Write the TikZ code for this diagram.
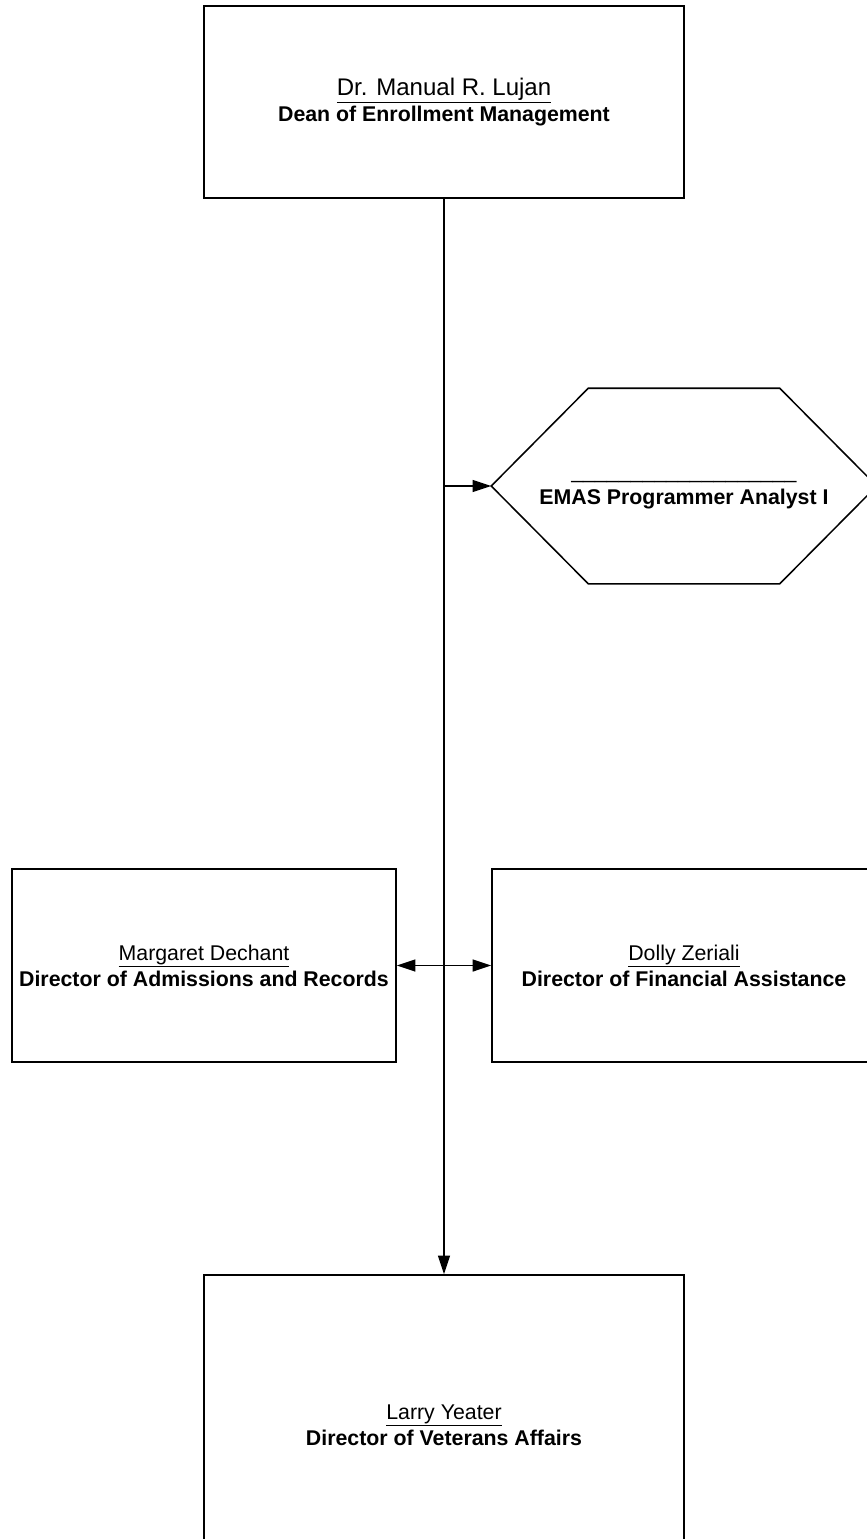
\documentclass[tikz,border=0pt]{standalone}
\usepackage{fontspec}
\setmainfont{Liberation Sans}
\usepackage{tikz}
\usetikzlibrary{arrows.meta, positioning}

\begin{document}
\begin{tikzpicture}
[line width = 1.3pt, >={Triangle[length=0.56cm, width=0.36cm]},
 post/.style = {rectangle, draw=black, fill=white, align=center, font=\fontsize{18.2}{22.2}\selectfont},
 wide/.style = {post, minimum width=14.4cm, minimum height=5.76cm},
 side/.style = {post, minimum width=11.52cm, minimum height=5.79cm},
 staff/.style = {post, draw=none, fill=none, minimum width=11.52cm, minimum height=5.82cm}]
\useasboundingbox (0,0) rectangle (26.01,-46.17);
\node[wide] (n1) at (13.32,-3.06) {{\fontsize{20.5}{22.2}\selectfont\underline{Dr. Manual R. Lujan}}\\ \textbf{Dean of Enrollment Management}};
\node[staff] (n2) at (20.52,-14.58) {\vphantom{E}\_\_\_\_\_\_\_\_\_\_\_\_\_\_\_\_\_\_\_\\ \textbf{EMAS Programmer Analyst I}};
\node[side] (n3) at (6.12,-28.965) {\underline{Margaret Dechant}\\ \textbf{Director of Admissions and Records}};
\node[side] (n4) at (20.52,-28.965) {\underline{Dolly Zeriali}\\ \textbf{Director of Financial Assistance}};
\node[wide, minimum height=9cm] (n5) at (13.32,-42.75) {\underline{Larry Yeater}\\ \textbf{Director of Veterans Affairs}};

% hexagon round the staff post
\draw (n2.west) -- ([xshift=2.91cm]n2.north west) -- ([xshift=-2.91cm]n2.north east)
  -- (n2.east) -- ([xshift=-2.91cm]n2.south east) -- ([xshift=2.91cm]n2.south west) -- cycle;

\coordinate (c1) at (n1 |- n2);
\coordinate (c2) at (n1 |- n3);

\draw[->] (n1) -- (n5);
\draw[->] (c1) -- (n2);
\draw[->] (c2) -- (n3);
\draw[->] (c2) -- (n4);

\end{tikzpicture}
\end{document}
